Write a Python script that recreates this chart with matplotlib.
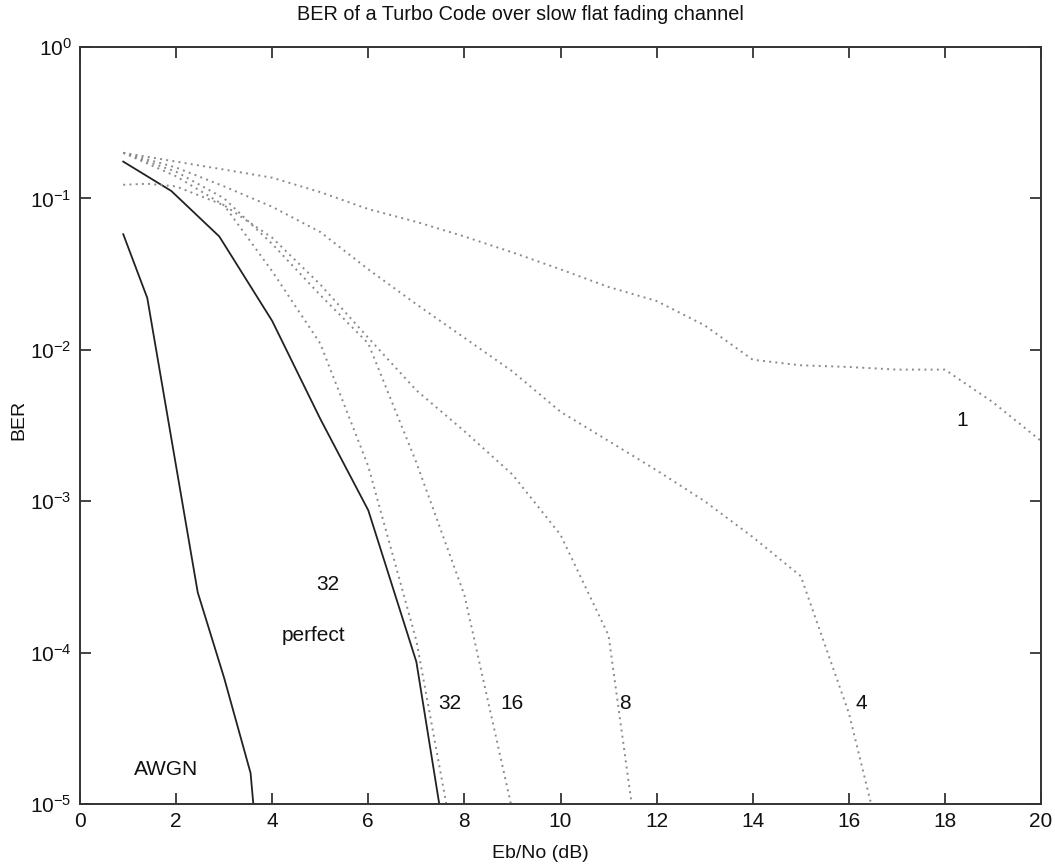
import matplotlib
matplotlib.use("Agg")
import matplotlib.pyplot as plt

plt.rcParams['font.family'] = ['Liberation Sans', 'DejaVu Sans']

# ---- data ----
awgn_x = [0.9, 1.4, 2.45, 3.0, 3.55, 3.62]
awgn_y = [0.058, 0.022, 2.5e-4, 6.8e-5, 1.6e-5, 9e-6]

perf32_x = [0.9, 1.9, 2.9, 4.0, 5.0, 6.0, 7.0, 7.5]
perf32_y = [0.175, 0.112, 0.056, 0.0155, 3.5e-3, 8.7e-4, 8.7e-5, 9e-6]

d1_x = [0.9, 2, 3, 4, 5, 6, 7, 8, 9, 10, 11, 12, 13, 14, 15, 16, 17, 18, 19, 20]
d1_y = [0.2, 0.175, 0.155, 0.137, 0.11, 0.085, 0.07, 0.056, 0.044, 0.034,
        0.026, 0.021, 0.0145, 0.0086, 0.0079, 0.0077, 0.0074, 0.0074, 0.0045, 0.0025]

d4_x = [0.9, 2, 3, 4, 5, 6, 7, 8, 9, 10, 11, 12, 13, 14, 15, 16, 16.5]
d4_y = [0.2, 0.16, 0.12, 0.088, 0.06, 0.034, 0.02, 0.012, 0.0072, 0.0039,
        0.0025, 0.0016, 0.001, 5.8e-4, 3.2e-4, 4e-5, 9e-6]

d8_x = [0.9, 1.4, 2, 3, 4, 5, 6, 7, 8, 9, 10, 11, 11.5]
d8_y = [0.123, 0.125, 0.12, 0.09, 0.055, 0.027, 0.012, 0.0054, 0.0029,
        0.0015, 6e-4, 1.3e-4, 9e-6]

d16_x = [0.9, 2, 3, 4, 5, 6, 7, 8, 9]
d16_y = [0.2, 0.15, 0.1, 0.05, 0.023, 0.011, 0.0018, 2.4e-4, 9e-6]

d32_x = [0.9, 2, 3, 4, 5, 6, 7, 7.65]
d32_y = [0.2, 0.14, 0.09, 0.033, 0.011, 0.0017, 1.2e-4, 9e-6]

labels_text = ['1', '4', '8', '16', '32', '32', 'perfect', 'AWGN']
labels_x = [18.35, 16.25, 11.35, 9.0, 7.7, 5.15, 4.85, 1.8]
labels_y = [3.4e-3, 4.6e-5, 4.6e-5, 4.6e-5, 4.6e-5, 2.8e-4, 1.3e-4, 1.7e-5]

xticks = [0, 2, 4, 6, 8, 10, 12, 14, 16, 18, 20]
yticks = [1e-5, 1e-4, 1e-3, 1e-2, 1e-1, 1e0]
ytick_labels = [r'$\mathregular{10^{-5}}$', r'$\mathregular{10^{-4}}$',
                r'$\mathregular{10^{-3}}$', r'$\mathregular{10^{-2}}$',
                r'$\mathregular{10^{-1}}$', r'$\mathregular{10^{0}}$']

# ---- figure ----
fig = plt.figure(figsize=(10.55, 8.68), dpi=100)
ax = fig.add_axes([80 / 1055, 1 - 804 / 868, (1041 - 80) / 1055, (804 - 47) / 868])

solid_kw = dict(color='#222222', linewidth=1.3, linestyle='-')
dot_kw = dict(color='#8a8a8a', linewidth=1.4, linestyle=(0, (1, 2.2)))

ax.plot(awgn_x, awgn_y, **solid_kw)
ax.plot(perf32_x, perf32_y, **solid_kw)
for xs, ys in [(d1_x, d1_y), (d4_x, d4_y), (d8_x, d8_y), (d16_x, d16_y), (d32_x, d32_y)]:
    ax.plot(xs, ys, **dot_kw)

for t, x, y in zip(labels_text, labels_x, labels_y):
    ax.text(x, y, t, fontsize=15, ha='center', va='center', color='#111111')

ax.set_yscale('log')
ax.set_xlim(0, 20)
ax.set_ylim(1e-5, 1)
ax.set_xticks(xticks)
ax.set_xticklabels([str(v) for v in xticks])
ax.set_yticks(yticks)
ax.set_yticklabels(ytick_labels)
ax.yaxis.set_minor_locator(matplotlib.ticker.NullLocator())
ax.tick_params(direction='in', length=8, width=1.1, top=True, right=True,
               colors='#111111', pad=6)
ax.tick_params(axis='x', labelsize=15)
ax.tick_params(axis='y', labelsize=15)

for s in ax.spines.values():
    s.set_linewidth(1.4)
    s.set_color('#333333')

fig.text(520 / 1055, 1 - 15 / 868, 'BER of a Turbo Code over slow flat fading channel',
         fontsize=14.3, ha='center', va='center', color='#111111')
fig.text(540 / 1055, 1 - 853 / 868, 'Eb/No (dB)', fontsize=14,
         ha='center', va='center', color='#111111')
fig.text(19 / 1055, 1 - 420 / 868, 'BER', fontsize=14, rotation=90,
         ha='center', va='center', color='#111111')

fig.savefig('out.png', dpi=100, facecolor='white')
